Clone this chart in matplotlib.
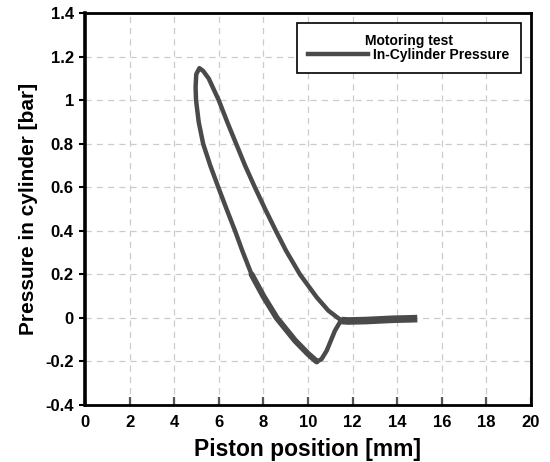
import matplotlib
matplotlib.use("Agg")
import matplotlib.pyplot as plt
from matplotlib.ticker import FuncFormatter

plt.rcParams['font.family'] = ['Liberation Sans', 'DejaVu Sans']
plt.rcParams['font.weight'] = 'bold'
plt.rcParams['axes.unicode_minus'] = False

# pressure loop (piston position mm, pressure bar)
# start at the junction, up the right branch, over the top, down the left branch
loop_x = [11.50, 11.28, 10.91, 10.39, 9.64, 9.01, 8.56, 8.08, 7.62, 7.18, 6.78,
          6.38, 6.00, 5.55, 5.30, 5.13, 4.99, 4.96, 4.98, 5.10, 5.30, 5.62,
          5.98, 6.35, 6.73, 7.05, 7.47, 8.00, 8.60, 9.42, 10.00, 10.39, 10.60,
          10.84, 11.21, 11.43, 11.50]
loop_p = [-0.012, 0.005, 0.034, 0.095, 0.20, 0.31, 0.40, 0.50, 0.60, 0.70, 0.80,
          0.90, 1.00, 1.10, 1.135, 1.148, 1.12, 1.06, 1.00, 0.90, 0.80, 0.70,
          0.60, 0.50, 0.40, 0.31, 0.20, 0.10, 0.00, -0.104, -0.165, -0.20, -0.19,
          -0.15, -0.058, -0.02, -0.012]

# flat part after the loop
tail_x = [11.5, 11.8, 12.2, 12.6, 13.0, 13.4, 13.8, 14.2, 14.6, 14.9]
tail_p = [-0.012, -0.014, -0.013, -0.012, -0.01, -0.008, -0.006, -0.005, -0.004, -0.003]

line_col = '#4a4a4a'

fig = plt.figure(figsize=(5.5, 4.62), dpi=100)
ax = fig.add_axes([0.1545, 0.1234, 0.811, 0.8478])

ax.plot(loop_x, loop_p, color=line_col, lw=3.2, solid_joinstyle='round',
        label='In-Cylinder Pressure')
# lower branch is a bit wider in the picture (cycles spread there)
ax.plot(loop_x[26:32], loop_p[26:32], color=line_col, lw=4.3,
        solid_capstyle='round', solid_joinstyle='round')
ax.plot(tail_x, tail_p, color=line_col, lw=5.5, solid_capstyle='butt')

ax.set_xlim(0, 20)
ax.set_ylim(-0.4, 1.4)
ax.set_xticks(range(0, 21, 2))
ax.set_yticks([-0.4, -0.2, 0, 0.2, 0.4, 0.6, 0.8, 1.0, 1.2, 1.4])
ax.yaxis.set_major_formatter(FuncFormatter(lambda v, p: '%g' % round(v, 1)))

ax.grid(True, color='#cccccc', ls=(0, (5, 4)), lw=0.9)
ax.set_axisbelow(True)

for s in ax.spines.values():
    s.set_linewidth(2)
ax.spines['left'].set_linewidth(2.6)

ax.tick_params(axis='x', direction='in', length=6, width=1.6, color='#555555',
               labelsize=12, pad=7)
ax.tick_params(axis='y', direction='out', length=4, width=1.5,
               labelsize=12, pad=4)
for lab in ax.get_xticklabels() + ax.get_yticklabels():
    lab.set_fontweight('bold')

ax.set_xlabel('Piston position [mm]', fontsize=16.5, fontweight='bold', labelpad=6)
ax.set_ylabel('Pressure in cylinder [bar]', fontsize=15, fontweight='bold', labelpad=5)

leg = ax.legend(loc='upper right', title='Motoring test', fontsize=10,
                title_fontsize=10, frameon=True, fancybox=False,
                borderpad=0.8, labelspacing=0.0, handlelength=4.3, handletextpad=0.4,
                borderaxespad=0, bbox_to_anchor=(0.977, 0.975))
leg.get_title().set_fontweight('bold')
for t in leg.get_texts():
    t.set_fontweight('bold')
leg.get_frame().set_edgecolor('black')
leg.get_frame().set_linewidth(1.2)
leg.get_frame().set_alpha(1)

fig.savefig('out.png', dpi=100)
